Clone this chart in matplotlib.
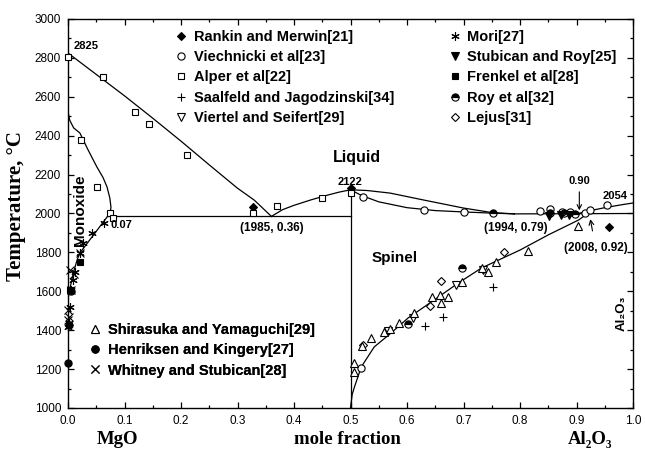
import matplotlib
matplotlib.use("Agg")
import matplotlib.pyplot as plt
from matplotlib.lines import Line2D
from matplotlib.ticker import MultipleLocator, FormatStrFormatter

# ---- phase boundaries (mole fraction Al2O3, temperature in C) ----
mgo_liq_x = [0.0, 0.05, 0.1, 0.15, 0.2, 0.25, 0.3, 0.33, 0.36]
mgo_liq_t = [2825, 2715, 2605, 2490, 2372, 2250, 2130, 2068, 1985]

sp_liq_left_x = [0.36, 0.38, 0.40, 0.43, 0.46, 0.48, 0.5]
sp_liq_left_t = [1985, 2020, 2042, 2070, 2095, 2110, 2122]

sp_liq_up_x = [0.5, 0.53, 0.57, 0.63, 0.70, 0.75, 0.79]
sp_liq_up_t = [2122, 2118, 2105, 2069, 2028, 2005, 1998]

sp_liq_low_x = [0.5, 0.52, 0.55, 0.6, 0.65, 0.70, 0.75, 0.79]
sp_liq_low_t = [2122, 2092, 2060, 2030, 2015, 2008, 2002, 1998]

flat_x = [0.79, 1.0]
flat_t = [1998, 2000]

cor_liq_x = [0.90, 0.92, 0.95, 0.98, 1.0]
cor_liq_t = [1998, 2012, 2030, 2045, 2054]

mono_solvus_x = [0.0, 0.003, 0.01, 0.021, 0.035, 0.051, 0.062, 0.069, 0.074, 0.076, 0.075, 0.07]
mono_solvus_t = [2525, 2480, 2440, 2414, 2330, 2240, 2185, 2137, 2080, 2034, 2005, 1985]

mono_solidus_x = [0.07, 0.021, 0.016, 0.01, 0.004, 0.0]
mono_solidus_t = [1985, 1797, 1760, 1700, 1622, 1560]

sp_solvus_x = [0.5, 0.503, 0.507, 0.519, 0.542, 0.572, 0.602, 0.643, 0.691, 0.732,
               0.80, 0.85, 0.904, 0.915]
sp_solvus_t = [1000, 1070, 1108, 1211, 1314, 1386, 1463, 1545, 1643, 1720,
               1812, 1890, 1967, 1990]

eutectic_x = [0.07, 0.5]
eutectic_t = [1985, 1985]

spinel_x = [0.5, 0.5]
spinel_t = [1000, 2122]

# ---- experimental points ----
rankin_x = [0.327, 0.5, 0.957]
rankin_t = [2033, 2130, 1930]

viechnicki_x = [0.522, 0.63, 0.70, 0.835, 0.853, 0.874, 0.888, 0.915, 0.924, 0.954, 0.519]
viechnicki_t = [2085, 2018, 2008, 2013, 2023, 2010, 2008, 2003, 2018, 2042, 1206]

alper_x = [0.0, 0.062, 0.118, 0.144, 0.21, 0.023, 0.052, 0.075, 0.08, 0.327, 0.37, 0.45, 0.5]
alper_t = [2805, 2700, 2520, 2460, 2300, 2380, 2137, 2003, 1975, 2005, 2040, 2080, 2105]

saalfeld_x = [0.632, 0.664, 0.753]
saalfeld_t = [1420, 1468, 1622]

viertel_x = [0.566, 0.61, 0.686, 0.734]
viertel_t = [1395, 1462, 1632, 1712]

mori_x = [0.064, 0.043, 0.027, 0.021, 0.012, 0.008, 0.005, 0.003, 0.001, 0.0]
mori_t = [1951, 1900, 1848, 1797, 1700, 1658, 1607, 1520, 1437, 1416]

stubican_x = [0.851, 0.872, 0.886]
stubican_t = [1985, 1990, 1992]

frenkel_x = [0.021, 0.004]
frenkel_t = [1750, 1605]

roy_x = [0.602, 0.697, 0.753, 0.853, 0.877, 0.897]
roy_t = [1430, 1722, 2000, 2005, 2000, 1995]

lejus_x = [0.771, 0.661, 0.523, 0.64]
lejus_t = [1802, 1653, 1322, 1525]

shirasuka_x = [0.507, 0.506, 0.52, 0.536, 0.56, 0.57, 0.585, 0.613, 0.645, 0.658, 0.673,
               0.661, 0.697, 0.732, 0.744, 0.758, 0.815, 0.902]
shirasuka_t = [1231, 1185, 1319, 1360, 1391, 1406, 1437, 1488, 1571, 1581, 1571,
               1540, 1648, 1720, 1699, 1751, 1805, 1935]

henriksen_x = [0.0, 0.001, 0.005]
henriksen_t = [1230, 1428, 1600]

whitney_x = [0.003, 0.0, 0.002, 0.0, 0.006, 0.021, 0.01]
whitney_t = [1710, 1505, 1468, 1450, 1607, 1797, 1690]

SANS = ["Liberation Sans", "DejaVu Sans"]
SERIF = ["Liberation Serif", "DejaVu Serif"]


def series_style(marker, filled=True, ms=4.5, fillstyle="full"):
    return dict(linestyle="none", marker=marker, ms=ms, mew=0.8, color="black",
                mfc="black" if filled else "white", mec="black", fillstyle=fillstyle)


def main() -> None:
    plt.rcParams["font.family"] = SANS
    fig = plt.figure(figsize=(6.45, 4.49), dpi=100)
    ax = fig.add_axes([68 / 645, 1 - 408 / 449, 565 / 645, 389 / 449])

    curves = [
        (mgo_liq_x, mgo_liq_t), (sp_liq_left_x, sp_liq_left_t),
        (sp_liq_up_x, sp_liq_up_t), (sp_liq_low_x, sp_liq_low_t),
        (flat_x, flat_t), (cor_liq_x, cor_liq_t),
        (mono_solvus_x, mono_solvus_t), (mono_solidus_x, mono_solidus_t),
        (sp_solvus_x, sp_solvus_t), (eutectic_x, eutectic_t), (spinel_x, spinel_t),
    ]
    for cx, ct in curves:
        ax.plot(cx, ct, color="black", lw=0.9)

    styles = {
        "Rankin and Merwin[21]": (rankin_x, rankin_t, series_style("D", True, 4)),
        "Viechnicki et al[23]": (viechnicki_x, viechnicki_t, series_style("o", False, 5.2)),
        "Alper et al[22]": (alper_x, alper_t, series_style("s", False, 4.4)),
        "Saalfeld and Jagodzinski[34]": (saalfeld_x, saalfeld_t, series_style("+", True, 6)),
        "Viertel and Seifert[29]": (viertel_x, viertel_t, series_style("v", False, 5.2)),
        "Mori[27]": (mori_x, mori_t, series_style((6, 2, 0), True, 6)),
        "Stubican and Roy[25]": (stubican_x, stubican_t, series_style("v", True, 5.2)),
        "Frenkel et al[28]": (frenkel_x, frenkel_t, series_style("s", True, 4.4)),
        "Roy et al[32]": (roy_x, roy_t, series_style("o", True, 5.2, "top")),
        "Lejus[31]": (lejus_x, lejus_t, series_style("D", False, 4.4)),
        "Shirasuka and Yamaguchi[29]": (shirasuka_x, shirasuka_t, series_style("^", False, 5.6)),
        "Henriksen and Kingery[27]": (henriksen_x, henriksen_t, series_style("o", True, 5.2)),
        "Whitney and Stubican[28]": (whitney_x, whitney_t, series_style("x", True, 5.2)),
    }
    handles = {}
    for label, (sx, st, kw) in styles.items():
        ax.plot(sx, st, clip_on=False, zorder=3, **kw)
        handles[label] = Line2D([], [], **kw)

    ax.set_xlim(0, 1.0)
    ax.set_ylim(1000, 3000)
    ax.xaxis.set_major_locator(MultipleLocator(0.1))
    ax.xaxis.set_minor_locator(MultipleLocator(0.05))
    ax.yaxis.set_major_locator(MultipleLocator(200))
    ax.yaxis.set_minor_locator(MultipleLocator(100))
    ax.tick_params(which="both", direction="in", top=True, right=True, labelsize=8.5, width=0.9)
    ax.tick_params(which="major", length=4, pad=5)
    ax.tick_params(which="minor", length=2)
    ax.xaxis.set_major_formatter(FormatStrFormatter("%.1f"))
    for sp in ax.spines.values():
        sp.set_linewidth(1.0)

    leg_kw = dict(frameon=False, handlelength=0.8, handletextpad=0.45,
                  labelspacing=0.43, borderaxespad=0, borderpad=0,
                  prop=dict(family=SANS, weight="bold", size=10.5))
    col1 = ["Rankin and Merwin[21]", "Viechnicki et al[23]", "Alper et al[22]",
            "Saalfeld and Jagodzinski[34]", "Viertel and Seifert[29]"]
    col2 = ["Mori[27]", "Stubican and Roy[25]", "Frenkel et al[28]", "Roy et al[32]", "Lejus[31]"]
    col3 = ["Shirasuka and Yamaguchi[29]", "Henriksen and Kingery[27]", "Whitney and Stubican[28]"]
    for names, anchor in [(col1, (0.19, 0.972)), (col2, (0.674, 0.972)), (col3, (0.038, 0.2185))]:
        leg = ax.legend([handles[n] for n in names], names, loc="upper left",
                        bbox_to_anchor=anchor, **leg_kw)
        ax.add_artist(leg)

    bold = dict(family=SANS, weight="bold", color="black")
    ax.text(0.01, 2835, "2825", fontsize=8, ha="left", va="bottom", **bold)
    ax.text(0.075, 1965, "0.07", fontsize=8, ha="left", va="top", **bold)
    ax.text(0.36, 1955, "(1985, 0.36)", fontsize=8.5, ha="center", va="top", **bold)
    ax.text(0.469, 2290, "Liquid", fontsize=11.5, ha="left", va="center", **bold)
    ax.text(0.5, 2135, "2122", fontsize=8, ha="center", va="bottom", **bold)
    ax.text(0.793, 1955, "(1994, 0.79)", fontsize=8.5, ha="center", va="top", **bold)
    ax.text(0.99, 2062, "2054", fontsize=8, ha="right", va="bottom", **bold)
    ax.text(0.538, 1770, "Spinel", fontsize=11, ha="left", va="center", **bold)
    ax.text(0.98, 1488, "Al\u2082O\u2083", fontsize=9.5, rotation=90, ha="center", va="center", **bold)
    ax.text(0.021, 2018, "Monoxide", fontsize=11, rotation=90, ha="center", va="center", **bold)
    ax.annotate("0.90", xy=(0.905, 2002), xytext=(0.905, 2140), fontsize=8, ha="center",
                va="bottom", arrowprops=dict(arrowstyle="->", lw=0.8, color="black"), **bold)
    ax.annotate("(2008, 0.92)", xy=(0.924, 1978), xytext=(0.934, 1823), fontsize=8.5,
                ha="center", va="center",
                arrowprops=dict(arrowstyle="->", lw=0.8, color="black",
                                shrinkA=6, shrinkB=1), **bold)

    serif = dict(family=SERIF, weight="bold", color="black")
    fig.text(16 / 645, 1 - 206 / 449, "Temperature, \u00b0C", rotation=90, fontsize=15,
             ha="center", va="center", **serif)
    for xpix, label in [(117, "MgO"), (347, "mole fraction"), (590, "Al\u2082O\u2083")]:
        fig.text(xpix / 645, 0.003, label, ha="center", va="bottom", fontsize=13.5, **serif)

    fig.savefig("out.png", dpi=100)
    plt.close(fig)


if __name__ == "__main__":
    main()
